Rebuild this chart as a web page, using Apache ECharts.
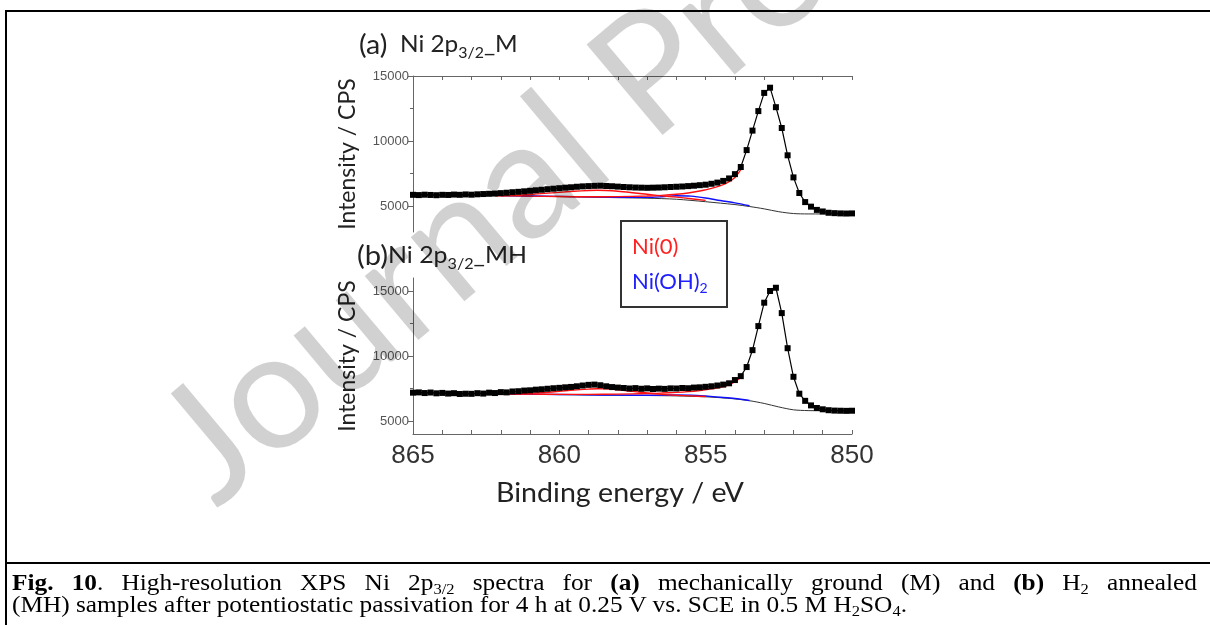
<!DOCTYPE html>
<html>
<head>
<meta charset="utf-8">
<script src="https://cdn.jsdelivr.net/npm/echarts@6/dist/echarts.min.js"></script>
<style>
  html, body { margin: 0; padding: 0; background: #fff; }
  #wrap { position: relative; width: 1210px; height: 625px; overflow: hidden; }
  #chart { position: absolute; left: 0; top: 0; width: 1210px; height: 625px; }
  .frame-top { position: absolute; left: 5px; top: 10px; width: 1210px; height: 2px; background: #000; }
  .frame-left { position: absolute; left: 5px; top: 10px; width: 2px; height: 620px; background: #000; }
  .frame-mid { position: absolute; left: 5px; top: 562px; width: 1210px; height: 2px; background: #000; }
  .cap { position: absolute; left: 12px; font-family: "Liberation Serif", "Times New Roman", serif;
         font-size: 23px; line-height: 22px; color: #000; white-space: nowrap; transform-origin: 0 0; }
  .cap.l1 { top: 572px; }
  .cap.l2 { top: 594px; }
  .cap sub { font-size: 15px; line-height: 0; vertical-align: -4px; }
</style>
</head>
<body>
<div id="wrap">
  <div id="chart"></div>
  <div class="frame-top"></div>
  <div class="frame-left"></div>
  <div class="frame-mid"></div>
  <div class="cap l1" id="cap1"><b>Fig. 10</b>. High-resolution XPS Ni 2p<sub>3/2</sub> spectra for <b>(a)</b> mechanically ground (M) and <b>(b)</b> H<sub>2</sub> annealed</div>
  <div class="cap l2" id="cap2">(MH) samples after potentiostatic passivation for 4 h at 0.25 V vs. SCE in 0.5 M H<sub>2</sub>SO<sub>4</sub>.</div>
</div>
<script>
// Caption: common horizontal scale from the last line, first line justified by word spacing
(function () {
  const c1 = document.getElementById('cap1');
  const c2 = document.getElementById('cap2');
  const s = 895 / c2.getBoundingClientRect().width;
  const w1 = c1.getBoundingClientRect().width;
  const gaps = c1.textContent.split(' ').length - 1;
  c1.style.wordSpacing = Math.max(0, (1185 / s - w1) / gaps) + 'px';
  c1.style.transform = c2.style.transform = 'scaleX(' + s + ')';
})();

// Binding energy grid of the measured spectra (eV)
const energy = [865.0,864.8,864.6,864.4,864.2,864.0,863.8,863.6,863.4,863.2,863.0,862.8,862.6,862.4,862.2,862.0,861.8,861.6,861.4,861.2,861.0,860.8,860.6,860.4,860.2,860.0,859.8,859.6,859.4,859.2,859.0,858.8,858.6,858.4,858.2,858.0,857.8,857.6,857.4,857.2,857.0,856.8,856.6,856.4,856.2,856.0,855.8,855.6,855.4,855.2,855.0,854.8,854.6,854.4,854.2,854.0,853.8,853.6,853.4,853.2,853.0,852.8,852.6,852.4,852.2,852.0,851.8,851.6,851.4,851.2,851.0,850.8,850.6,850.4,850.2,850.0];

// Measured intensity (CPS): (a) mechanically ground, (b) H2 annealed
const measuredM = [5860,5840,5870,5850,5830,5860,5850,5880,5860,5890,5870,5900,5920,5940,5960,5990,6020,6060,6090,6130,6170,6210,6250,6290,6330,6370,6410,6440,6480,6510,6530,6550,6560,6540,6520,6490,6460,6440,6420,6410,6400,6410,6420,6440,6460,6480,6500,6530,6560,6600,6640,6710,6800,6930,7120,7450,8000,9300,10800,12300,13700,14100,12600,11000,8900,7200,6000,5300,4950,4700,4580,4480,4450,4430,4420,4430];
const measuredMH = [7180,7200,7150,7190,7130,7160,7110,7140,7080,7100,7090,7140,7110,7180,7150,7220,7200,7270,7290,7340,7360,7410,7440,7480,7520,7550,7590,7620,7670,7730,7780,7800,7750,7670,7610,7570,7540,7500,7530,7480,7510,7460,7490,7470,7510,7500,7540,7520,7570,7590,7630,7670,7730,7800,7900,8150,8450,9150,10450,12300,14100,15000,15250,13300,10600,8400,7100,6550,6200,6000,5900,5830,5800,5790,5780,5790];

// Shirley background
const bgEnergy = [865,864,863,862,861,860,859,858,857,856,855,854.5,854,853.5,853,852.5,852,851.5,851,850];
const backgroundM  = [5850,5840,5820,5790,5760,5720,5680,5640,5600,5520,5330,5220,5110,4960,4780,4560,4420,4390,4390,4390];
const backgroundMH = [7170,7150,7120,7090,7060,7030,7000,6980,6960,6930,6860,6790,6700,6560,6350,6080,5860,5800,5790,5790];

// Ni(0) main line (on background)
const ni0Energy = [862,861,860,859,858,857,856.5,856,855.6,855.2,854.8,854.4,854.2,854.0,853.8];
const ni0M  = [5800,5760,5730,5710,5720,5770,5820,5900,6000,6150,6350,6650,6880,7200,7800];
const ni0MH = [7090,7070,7050,7050,7070,7110,7150,7200,7260,7350,7470,7650,7800,8020,8350];

// Ni(0) satellite (on background)
const satEnergy = [862.2,861.5,861,860.5,860,859.5,859,858.7,858.4,858,857.5,857,856.5,856,855.5,855];
const ni0SatM  = [5790,5830,5890,5970,6050,6130,6190,6210,6190,6130,6020,5900,5780,5680,5560,5430];
const ni0SatMH = [7080,7090,7120,7190,7280,7380,7450,7480,7470,7400,7280,7150,7050,6980,6930,6880];

// Ni(OH)2 component (on background)
const ohEnergy = [862,861,860,859,858,857,856.5,856,855.5,855,854.5,854,853.5];
const niOHM  = [5800,5770,5740,5700,5670,5660,5710,5790,5760,5620,5420,5240,5020];
const niOHMH = [7080,7060,7040,7010,6990,6980,6990,7010,6990,6920,6830,6730,6580];

// Axis ticks and labels
const energyTicks = [865,864,863,862,861,860,859,858,857,856,855,854,853,852,851,850];
const energyLabels = [865,860,855,850];
const intensityLabels = [5000,10000,15000];
const intensityMinor = [7500,12500];

const pairs = (xs, ys) => xs.map((x, i) => [x, ys[i]]);

const SANS = 'Lato, "Open Sans", sans-serif';
const DIGITS = '"Liberation Sans", Arial, sans-serif';
const AXIS_COL = '#666';

const GRIDS = [
  { left: 413, top: 76, width: 439, height: 156 },
  { left: 413, top: 278, width: 439, height: 156 }
];
const YRANGE = [[3000, 15000], [4000, 16000]];

function xAxisFor(i) {
  return {
    type: 'value', gridIndex: i, min: 850, max: 865, inverse: true,
    position: i === 0 ? 'top' : 'bottom',
    axisLine: { show: true, lineStyle: { color: AXIS_COL, width: 1 } },
    axisTick: { show: true, inside: true, length: 4, customValues: energyTicks, lineStyle: { color: AXIS_COL } },
    axisLabel: i === 0 ? { show: false } : {
      show: true, customValues: energyLabels, fontFamily: DIGITS, fontSize: 26, color: '#333', margin: 9
    },
    splitLine: { show: false }
  };
}

function yAxisMajor(i) {
  return {
    type: 'value', gridIndex: i, min: YRANGE[i][0], max: YRANGE[i][1], position: 'left',
    axisLine: { show: true, lineStyle: { color: AXIS_COL, width: 1 } },
    axisTick: { show: true, inside: false, length: 5, customValues: intensityLabels, lineStyle: { color: AXIS_COL } },
    axisLabel: { show: true, customValues: intensityLabels, fontFamily: DIGITS, fontSize: 13, color: '#555', margin: 4,
                 formatter: v => String(v) },
    splitLine: { show: false },
    name: 'Intensity / CPS', nameLocation: 'middle', nameGap: 54,
    nameTextStyle: { fontFamily: SANS, fontSize: 23, color: '#222' }
  };
}

function yAxisMinor(i) {
  return {
    type: 'value', gridIndex: i, min: YRANGE[i][0], max: YRANGE[i][1], position: 'left',
    axisLine: { show: false },
    axisTick: { show: true, inside: false, length: 3, customValues: intensityMinor, lineStyle: { color: AXIS_COL } },
    axisLabel: { show: false },
    splitLine: { show: false }
  };
}

function line(ax, data, color, width, z) {
  return {
    type: 'line', xAxisIndex: ax, yAxisIndex: ax * 2, data: data,
    symbol: 'none', smooth: 0.3, lineStyle: { color: color, width: width }, z: z, silent: true
  };
}

function measured(ax, data) {
  return {
    type: 'line', xAxisIndex: ax, yAxisIndex: ax * 2, data: data,
    symbol: 'rect', symbolSize: 6, showAllSymbol: true,
    itemStyle: { color: '#000' }, lineStyle: { color: '#000', width: 1.2 }, z: 6, silent: true
  };
}

const series = [];
[
  [measuredM, backgroundM, ni0M, ni0SatM, niOHM],
  [measuredMH, backgroundMH, ni0MH, ni0SatMH, niOHMH]
].forEach((set, i) => {
  series.push(line(i, pairs(bgEnergy, set[1]), '#333', 1, 2));
  series.push(line(i, pairs(ohEnergy, set[4]), '#1010ff', 1.4, 3));
  series.push(line(i, pairs(ni0Energy, set[2]), '#ff1010', 1.4, 4));
  series.push(line(i, pairs(satEnergy, set[3]), '#ff1010', 1.4, 4));
  series.push(measured(i, pairs(energy, set[0])));
});

const INK = '#222';
const titleRich = {
  p: { fontFamily: SANS, fontSize: 27, fill: INK, lineHeight: 32, verticalAlign: 'middle' },
  t: { fontFamily: SANS, fontSize: 23, fill: INK, lineHeight: 32, verticalAlign: 'middle' },
  s: { fontFamily: SANS, fontSize: 15, fill: INK, lineHeight: 17, verticalAlign: 'bottom' }
};
const legendRich = {
  r: { fontFamily: SANS, fontSize: 22, fill: '#ff2020', lineHeight: 26, verticalAlign: 'middle' },
  b: { fontFamily: SANS, fontSize: 22, fill: '#2020ff', lineHeight: 26, verticalAlign: 'middle' },
  bs: { fontFamily: SANS, fontSize: 14, fill: '#2020ff', lineHeight: 14, verticalAlign: 'bottom' }
};

const chart = echarts.init(document.getElementById('chart'), null, { renderer: 'canvas' });
chart.setOption({
  animation: false,
  backgroundColor: '#fff',
  grid: GRIDS,
  xAxis: [xAxisFor(0), xAxisFor(1)],
  yAxis: [yAxisMajor(0), yAxisMinor(0), yAxisMajor(1), yAxisMinor(1)],
  series: series,
  graphic: [
    { type: 'text', x: 359, y: 45, z: 10, silent: true, scaleX: 1.06,
      style: { text: '{p|(a)}{t|  Ni 2p}{s|3/2}{t|_M}', rich: titleRich, textVerticalAlign: 'middle' } },
    { type: 'text', x: 357, y: 256, z: 10, silent: true, scaleX: 1.08,
      style: { text: '{p|(b)}{t|Ni 2p}{s|3/2}{t|_MH}', rich: titleRich, textVerticalAlign: 'middle' } },
    { type: 'text', x: 496, y: 494, z: 10, silent: true, scaleX: 1.1,
      style: { text: 'Binding energy / eV', font: '26px Lato, sans-serif', fill: INK,
               textAlign: 'left', textVerticalAlign: 'middle' } },
    { type: 'rect', z: 10, silent: true,
      shape: { x: 621, y: 221, width: 106, height: 86 },
      style: { fill: '#fff', stroke: '#333', lineWidth: 2 } },
    { type: 'text', x: 632, y: 247, z: 11, silent: true,
      style: { text: '{r|Ni(0)}', rich: legendRich, textVerticalAlign: 'middle' } },
    { type: 'text', x: 632, y: 282, z: 11, silent: true,
      style: { text: '{b|Ni(OH)}{bs|2}', rich: legendRich, textVerticalAlign: 'middle' } },
    { type: 'text', x: 235, y: 532, z: 100, silent: true, rotation: 40 * Math.PI / 180,
      style: { text: 'Journal Pre-proof', font: '165px Lato, sans-serif', fill: 'rgba(0,0,0,0.18)',
               textAlign: 'left', textVerticalAlign: 'bottom' } }
  ]
});
</script>
</body>
</html>
